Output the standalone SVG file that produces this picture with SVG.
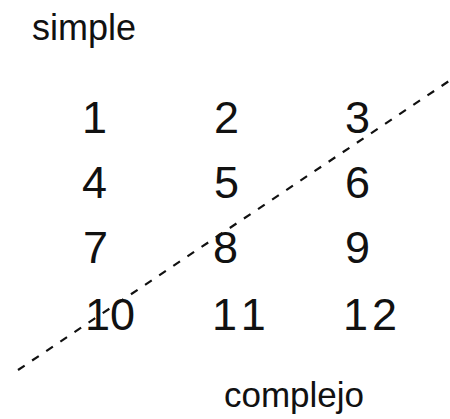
<svg xmlns="http://www.w3.org/2000/svg" width="450" height="419" viewBox="0 0 450 419">
  <style>
    .lbl { font-family: "Liberation Sans", Arial, sans-serif; font-size: 36px; fill: #111; }
    .num { font-family: "Liberation Sans", Arial, sans-serif; font-size: 45px; fill: #111; }
    .dash { stroke: #111; stroke-width: 2.2; stroke-dasharray: 8 9; fill: none; }
  </style>
  <rect x="0" y="0" width="450" height="419" fill="#fff"/>
  <g id="label-simple"><text class="lbl" x="32" y="40">simple</text></g>
  <g id="label-complejo"><text class="lbl" x="224" y="407" style="font-size:35px">complejo</text></g>
  <g id="n1"><text class="num" x="82" y="133">1</text></g>
  <g id="n2"><text class="num" x="214" y="133">2</text></g>
  <g id="n3"><text class="num" x="345" y="133">3</text></g>
  <g id="n4"><text class="num" x="82" y="198">4</text></g>
  <g id="n5"><text class="num" x="214" y="198">5</text></g>
  <g id="n6"><text class="num" x="345" y="198">6</text></g>
  <g id="n7"><text class="num" x="83" y="263">7</text></g>
  <g id="n8"><text class="num" x="213" y="263">8</text></g>
  <g id="n9"><text class="num" x="345" y="263">9</text></g>
  <g id="n10"><text class="num" x="85" y="330">10</text></g>
  <g id="n11"><text class="num" x="212" y="330" letter-spacing="7">11</text></g>
  <g id="n12"><text class="num" x="343" y="330" letter-spacing="4">12</text></g>
  <g id="connectors">
    <line class="dash" x1="18" y1="370" x2="452" y2="79"/>
  </g>
</svg>
